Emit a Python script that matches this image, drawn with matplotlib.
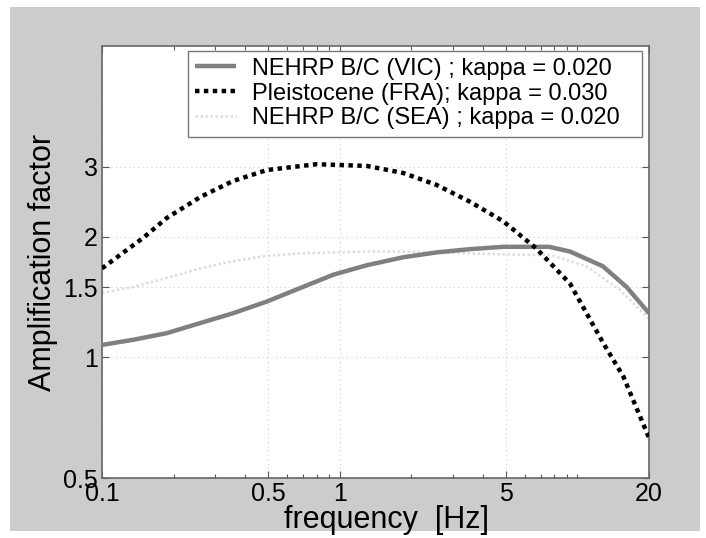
import matplotlib
matplotlib.use("Agg")
import matplotlib.pyplot as plt
from matplotlib.patches import Rectangle
from matplotlib.ticker import FixedLocator, LogLocator, NullFormatter, FixedFormatter

plt.rcParams['font.family'] = ['Liberation Sans', 'DejaVu Sans']

# Data
freq_vic = [0.1, 0.135, 0.187, 0.26, 0.356, 0.494, 0.68, 0.94, 1.3, 1.85, 2.55, 3.53, 4.87, 7.6, 9.3, 12.8, 16.1, 20.0]
amp_vic = [1.075, 1.107, 1.15, 1.22, 1.29, 1.38, 1.49, 1.61, 1.70, 1.78, 1.83, 1.865, 1.89, 1.89, 1.84, 1.69, 1.50, 1.29]

freq_fra = [0.1, 0.149, 0.187, 0.26, 0.356, 0.494, 0.80, 1.3, 1.85, 2.55, 3.53, 4.87, 6.73, 9.3, 12.8, 15.6, 20.0]
amp_fra = [1.67, 1.99, 2.23, 2.52, 2.76, 2.94, 3.04, 3.01, 2.89, 2.70, 2.45, 2.19, 1.87, 1.53, 1.09, 0.896, 0.63]

freq_sea = [0.1, 0.135, 0.187, 0.26, 0.356, 0.494, 0.68, 0.94, 1.3, 1.85, 3.53, 4.87, 7.8, 10.9, 15.1, 20.0]
amp_sea = [1.45, 1.50, 1.58, 1.67, 1.74, 1.795, 1.82, 1.83, 1.84, 1.84, 1.82, 1.81, 1.80, 1.69, 1.475, 1.25]

labels = ["NEHRP B/C (VIC) ; kappa = 0.020",
          "Pleistocene (FRA); kappa = 0.030",
          "NEHRP B/C (SEA) ; kappa = 0.020"]

xticks = [0.1, 0.5, 1, 5, 20]
xticklabels = ["0.1", "0.5", "1", "5", "20"]
yticks = [0.5, 1, 1.5, 2, 3]
yticklabels = ["0.5", "1", "1.5", "2", "3"]

W, H = 706, 538
fig = plt.figure(figsize=(W / 100, H / 100), dpi=100)
fig.patch.set_facecolor('white')
fig.patches.append(Rectangle((10 / W, 1 - 531 / H), 690 / W, 524 / H,
                             transform=fig.transFigure, facecolor='#cccccc',
                             edgecolor='none', zorder=-10))

ax = fig.add_axes([102 / W, 1 - 478 / H, 547 / W, 432 / H])
ax.set_facecolor('white')
ax.set_xscale('log')
ax.set_yscale('log')
ax.set_xlim(0.1, 20)
ax.set_ylim(0.5, 6)

l1, = ax.plot(freq_vic, amp_vic, color='#808080', lw=3.2, solid_capstyle='butt', zorder=3)
l2, = ax.plot(freq_fra, amp_fra, color='black', lw=3.2, linestyle=(0, (1, 1)),
              dash_capstyle='butt', zorder=4)
l3, = ax.plot(freq_sea, amp_sea, color='#dddddd', lw=1.8, linestyle=(0, (1, 1)),
              dash_capstyle='butt', zorder=2)

# ticks
ax.xaxis.set_major_locator(FixedLocator(xticks))
ax.xaxis.set_major_formatter(FixedFormatter(xticklabels))
ax.xaxis.set_minor_locator(LogLocator(base=10, subs=range(1, 10), numticks=20))
ax.xaxis.set_minor_formatter(NullFormatter())
ax.yaxis.set_major_locator(FixedLocator(yticks))
ax.yaxis.set_major_formatter(FixedFormatter(yticklabels))
ax.yaxis.set_minor_locator(FixedLocator([]))
ax.yaxis.set_minor_formatter(NullFormatter())

ax.tick_params(which='both', direction='in', top=True, right=True, color='#555555')
ax.tick_params(which='major', length=5, width=0.8, labelsize=18, pad=3)
ax.tick_params(which='minor', length=3, width=0.8)

for s in ax.spines.values():
    s.set_color('#666666')
    s.set_linewidth(1.2)

ax.grid(True, which='major', linestyle=(0, (1, 3)), color='#cfcfcf', lw=0.8)
ax.set_axisbelow(True)

ax.set_xlabel("frequency  [Hz]", fontsize=22, labelpad=-1)
ax.xaxis.label.set_x(0.52)
ax.set_ylabel("Amplification factor", fontsize=22, labelpad=4)

leg = ax.legend([l1, l2, l3], labels, loc='upper left',
                bbox_to_anchor=((188 - 102) / 547, (478 - 55) / 432, (642 - 188) / 547, 0.01),
                mode='expand', borderaxespad=0,
                fontsize=17, frameon=True, fancybox=False, framealpha=1,
                edgecolor='#777777', handlelength=1.75, handletextpad=0.65,
                labelspacing=0.12, borderpad=0.3)
leg.get_frame().set_linewidth(1.0)

fig.savefig("out.png", dpi=100, facecolor=fig.get_facecolor())
